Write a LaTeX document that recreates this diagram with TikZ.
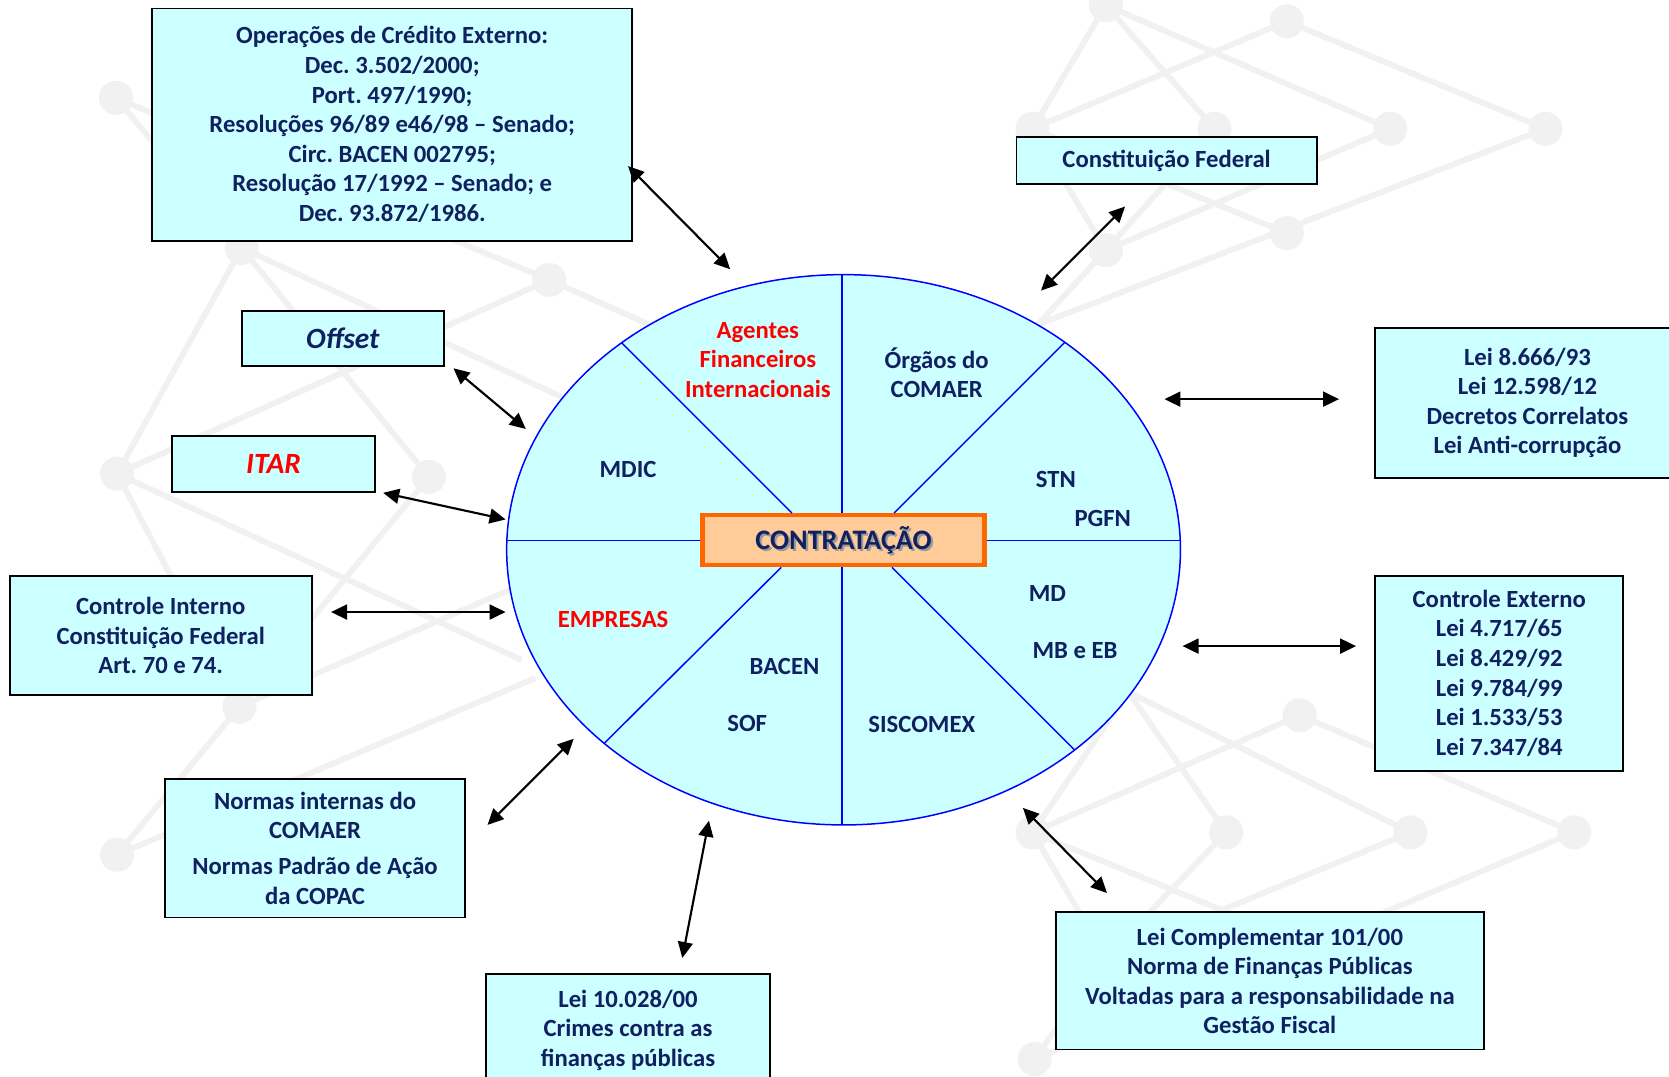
\documentclass[tikz,border=0pt]{standalone}
\usepackage{fontspec}
\setmainfont{Carlito}
\frenchspacing
\usetikzlibrary{arrows.meta,shapes.geometric}
\definecolor{navy}{HTML}{102060}
\definecolor{cyanfill}{HTML}{CCFFFF}
\definecolor{peach}{HTML}{FFCC99}
\definecolor{orng}{HTML}{FF6600}
\definecolor{bgline}{HTML}{F1F1F1}
\definecolor{ellblue}{HTML}{0000FF}
\begin{document}
\begin{tikzpicture}[x=1pt,y=-1pt,
  lawbox/.style={draw=black,line width=1.8pt,fill=cyanfill,inner sep=0pt,align=center,text=navy,font=\bfseries\fontsize{23.2}{27.8}\selectfont},
  lbl/.style={align=center,text=navy,font=\bfseries\fontsize{23.2}{27.8}\selectfont,inner sep=0pt},
  redlbl/.style={lbl,text=red},
  dbl/.style={{Triangle[length=15pt,width=14pt]}-{Triangle[length=15pt,width=14pt]},line width=2pt,draw=black},
  sector/.style={draw=ellblue,line width=1.4pt},
  bg/.style={draw=bgline,line width=5.5pt},
  bgdot/.style={fill=bgline,draw=none}
]
\useasboundingbox (0,0) rectangle (1568,1011);
% ---------- background network ----------
% top-left
\draw[bg] (109,92) -- (227,233);
\draw[bg] (109,92) -- (516,263);
\draw[bg] (227,233) -- (110,445);
\draw[bg] (227,233) -- (403,448);
\draw[bg] (227,233) -- (560,388);
\draw[bg] (516,263) -- (110,445);
\draw[bg] (516,263) -- (700,345);
\draw[bg] (110,445) -- (225,664);
\draw[bg] (110,445) -- (490,620);
\draw[bg] (403,448) -- (225,664);
\draw[bg] (225,664) -- (500,545);
\draw[bg] (225,664) -- (110,803);
\draw[bg] (110,803) -- (503,637);
\foreach \p in {(109,92),(227,233),(516,263),(110,445),(403,448),(225,664),(110,803)}
  \fill[bgdot] \p circle [radius=16pt];
% top-right
\draw[bg] (1039,5) -- (970,121);
\draw[bg] (1039,5) -- (1141,121);
\draw[bg] (1039,5) -- (1306,121);
\draw[bg] (1209,20) -- (970,121);
\draw[bg] (1209,20) -- (1452,121);
\draw[bg] (970,121) -- (1039,235);
\draw[bg] (1141,121) -- (1039,235);
\draw[bg] (970,121) -- (1209,219);
\draw[bg] (1306,121) -- (1039,235);
\draw[bg] (1452,121) -- (975,305);
\draw[bg] (1039,235) -- (975,305);
\foreach \p in {(1039,5),(1209,20),(970,121),(1141,121),(1306,121),(1452,121),(1039,235),(1209,219)}
  \fill[bgdot] \p circle [radius=16pt];
% bottom-right
\draw[bg] (1060,650) -- (970,782);
\draw[bg] (1060,650) -- (1152,782);
\draw[bg] (1060,650) -- (1325,782);
\draw[bg] (1221,672) -- (970,782);
\draw[bg] (1221,672) -- (1479,782);
\draw[bg] (970,782) -- (1039,900);
\draw[bg] (1152,782) -- (1039,900);
\draw[bg] (970,782) -- (1221,885);
\draw[bg] (1325,782) -- (1039,900);
\draw[bg] (1479,782) -- (972,995);
\draw[bg] (1039,900) -- (972,995);
\foreach \p in {(1221,672),(970,782),(1152,782),(1325,782),(1479,782),(972,995)}
  \fill[bgdot] \p circle [radius=16pt];
% ---------- central ellipse ----------
\node[ellipse,draw=ellblue,fill=cyanfill,line width=1.4pt,minimum width=633pt,minimum height=517pt,inner sep=0pt] (ell) at (792.5,516.5) {};
\node[draw=orng,line width=4pt,fill=peach,minimum width=265pt,minimum height=47pt,inner sep=0pt] (cbox) at (792.5,507.5) {};
\coordinate (ul1) at (584,322); \coordinate (ul2) at (744,482);
\coordinate (ur1) at (1000,322); \coordinate (ur2) at (840,482);
\coordinate (ll1) at (568,698); \coordinate (ll2) at (734,533);
\coordinate (lr1) at (1009,704); \coordinate (lr2) at (838,533);
\coordinate (vt1) at (791,258); \coordinate (vt2) at (791,482);
\coordinate (vb1) at (791,533); \coordinate (vb2) at (791,775);
\coordinate (hl1) at (476,508); \coordinate (hl2) at (658,508);
\coordinate (hr1) at (927,508); \coordinate (hr2) at (1109,508);
\draw[sector] (ul1) -- (ul2);
\draw[sector] (ur1) -- (ur2);
\draw[sector] (ll1) -- (ll2);
\draw[sector] (lr1) -- (lr2);
\draw[sector] (vt1) -- (vt2);
\draw[sector] (vb1) -- (vb2);
\draw[sector] (hl1) -- (hl2);
\draw[sector] (hr1) -- (hr2);
\node[text=black!40,font=\bfseries\fontsize{26.5}{30}\selectfont,inner sep=0pt] (cshadow) at (794.5,510) {CONTRATAÇÃO};
\node[text=navy,font=\bfseries\fontsize{26.5}{30}\selectfont,inner sep=0pt] (ctext) at (792.5,508) {CONTRATAÇÃO};
% sector labels
\node[redlbl] (agentes) at (712,338) {Agentes\\Financeiros\\Internacionais};
\node[lbl] (orgaos) at (880,350) {Órgãos do\\COMAER};
\node[lbl] (mdic) at (590,441) {MDIC};
\node[lbl] (stn) at (992,450) {STN};
\node[lbl] (pgfn) at (1036,487) {PGFN};
\node[redlbl] (empresas) at (576,582) {EMPRESAS};
\node[lbl] (md) at (984,558) {MD};
\node[lbl] (mbeb) at (1010,611) {MB e EB};
\node[lbl] (bacen) at (737,626) {BACEN};
\node[lbl] (sof) at (702,680) {SOF};
\node[lbl] (siscomex) at (866,681) {SISCOMEX};
% ---------- law boxes ----------
\node[lawbox,minimum width=451pt,minimum height=218pt] (b1) at (368.5,117) {Operações de Crédito Externo:\\Dec. 3.502/2000;\\Port. 497/1990;\\Resoluções 96/89 e46/98 – Senado;\\Circ. BACEN 002795;\\Resolução 17/1992 – Senado; e\\Dec. 93.872/1986.};
\node[lawbox,minimum width=282pt,minimum height=44pt] (cf) at (1096,151) {Constituição Federal};
\node[lawbox,minimum width=190pt,minimum height=52pt,font=\bfseries\itshape\fontsize{27.6}{30}\selectfont] (offset) at (322,318) {Offset};
\node[lawbox,minimum width=190pt,minimum height=52pt,text=red,font=\bfseries\itshape\fontsize{27.6}{30}\selectfont] (itar) at (257,436) {ITAR};
\node[lawbox,minimum width=286pt,minimum height=141pt] (lei8666) at (1435,378.5) {Lei 8.666/93\\Lei 12.598/12\\Decretos Correlatos\\Lei Anti-corrupção};
\node[lawbox,minimum width=284pt,minimum height=112pt] (ci) at (151,597) {Controle Interno\\Constituição Federal\\Art. 70 e 74.};
\node[lawbox,minimum width=233pt,minimum height=183pt] (ce) at (1408.5,632.5) {Controle Externo\\Lei 4.717/65\\Lei 8.429/92\\Lei 9.784/99\\Lei 1.533/53\\Lei 7.347/84};
\node[lawbox,minimum width=282pt,minimum height=130pt] (normas) at (296,797) {Normas internas do\\COMAER\\[6pt]Normas Padrão de Ação\\da COPAC};
\node[lawbox,minimum width=266pt,minimum height=106pt] (lei10028) at (590,968) {Lei 10.028/00\\Crimes contra as\\finanças públicas};
\node[lawbox,minimum width=402pt,minimum height=129pt] (lc) at (1193,921.5) {Lei Complementar 101/00\\Norma de Finanças Públicas\\Voltadas para a responsabilidade na\\Gestão Fiscal};
% ---------- connectors ----------
\coordinate (a1s) at (590,156); \coordinate (a1e) at (686,253);
\coordinate (a2s) at (1057,194); \coordinate (a2e) at (978,273);
\coordinate (a3s) at (426,346); \coordinate (a3e) at (494,403);
\coordinate (a4s) at (360,463); \coordinate (a4e) at (475,488);
\coordinate (a5s) at (1094,375); \coordinate (a5e) at (1258,375);
\coordinate (a6s) at (311,575); \coordinate (a6e) at (475,575);
\coordinate (a7s) at (1111,607); \coordinate (a7e) at (1274,607);
\coordinate (a8s) at (458,775); \coordinate (a8e) at (539,694);
\coordinate (a9s) at (641,900); \coordinate (a9e) at (666,771);
\coordinate (a10s) at (961,759); \coordinate (a10e) at (1040,839);
\draw[dbl] (a1s) -- (a1e);
\draw[dbl] (a2s) -- (a2e);
\draw[dbl] (a3s) -- (a3e);
\draw[dbl] (a4s) -- (a4e);
\draw[dbl] (a5s) -- (a5e);
\draw[dbl] (a6s) -- (a6e);
\draw[dbl] (a7s) -- (a7e);
\draw[dbl] (a8s) -- (a8e);
\draw[dbl] (a9s) -- (a9e);
\draw[dbl] (a10s) -- (a10e);
\end{tikzpicture}
\end{document}
